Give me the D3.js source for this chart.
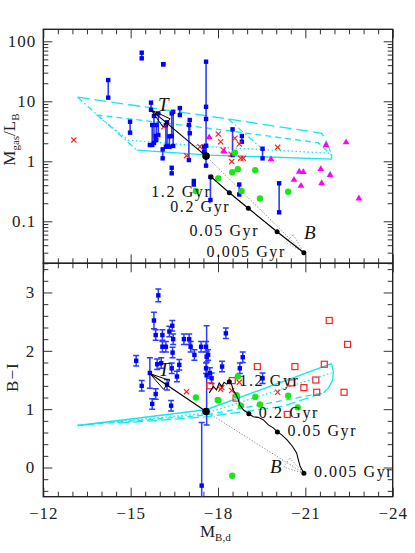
<!DOCTYPE html>
<html>
<head>
<meta charset="utf-8">
<script src="https://cdn.jsdelivr.net/npm/d3@7"></script>
<style>
  body { margin: 0; background: #fff; }
  text { font-family: "Liberation Serif", "DejaVu Serif", serif; }
</style>
</head>
<body>
<div id="chart"></div>
<script>
const width = 415, height = 553;
const frameL = 43.3, frameR = 392.7, frameT = 29.3, frameM = 263.3, frameB = 496.7;
const fontFam = "Liberation Serif, DejaVu Serif, serif";

// ---- data ----
const xMajor = [-12, -15, -18, -21, -24];
const topMajor = [0.1, 1, 10, 100];
const topMajorLabels = ["0.1", "1", "10", "100"];
const botMajor = [0, 1, 2, 3];

// top panel: blue ranges [M_B, low, high] of M_gas/L_B
const topBlueBars = [
  [-14.23, 11.5, 22.6], [-14.98, 3.0, 4.57], [-15.38, 52, 64.6], [-16.12, 41.4, 41.4],
  [-15.70, 7.2, 9.5], [-15.74, 1.87, 4.03], [-15.80, 2.02, 5.7], [-15.88, 2.26, 4.03],
  [-15.95, 2.74, 6.3], [-16.10, 1.12, 1.58], [-16.21, 1.75, 4.0], [-16.25, 1.8, 4.47],
  [-16.33, 1.75, 2.6], [-16.41, 2.64, 6.3], [-16.46, 1.8, 6.7], [-16.41, 0.63, 0.78],
  [-16.69, 5.9, 7.7], [-17.00, 1.05, 4.03], [-17.03, 2.93, 4.88], [-17.17, 0.41, 0.47],
  [-17.52, 1.45, 1.75], [-17.59, 0.845, 45.7], [-17.74, 0.226, 0.55], [-18.50, 1.27, 3.41],
  [-18.82, 2.12, 2.64], [-18.73, 0.28, 0.41], [-19.53, 1.12, 1.62], [-20.10, 0.141, 0.43]
];
const topBlueExtra = [[-17.59, 8.1], [-17.59, 5.07], [-17.59, 1.82], [-15.66, 1.87], [-15.86, 2.64]];
const topRedX = [
  [-13.05, 2.26], [-16.14, 3.77], [-16.92, 1.24], [-17.38, 1.75], [-18.01, 2.85], [-18.09, 2.12],
  [-18.18, 1.54], [-18.47, 0.99], [-18.45, 1.31], [-18.58, 2.42], [-18.73, 1.94], [-18.78, 1.12],
  [-18.87, 1.12], [-20.05, 1.71]
];
const topMagenta = [
  [-17.70, 2.51], [-18.21, 1.45], [-19.82, 1.08], [-20.79, 0.67], [-20.93, 0.66], [-21.53, 0.74],
  [-21.71, 1.87], [-22.40, 2.07], [-21.85, 0.59], [-20.61, 0.49], [-20.85, 0.39], [-21.56, 0.43],
  [-22.84, 0.24]
];
const topGreen = [
  [-18.58, 1.39], [-18.49, 0.66], [-18.68, 0.74], [-19.28, 0.71], [-18.01, 0.52],
  [-18.81, 0.32], [-19.44, 0.24], [-20.41, 0.31], [-17.24, 0.32]
];

// top panel model grid (cyan)
const modelTopLong = [[-13.18, 11.7], [-18.35, 5.07], [-21.56, 2.93], [-21.73, 2.12], [-21.9, 1.27]];
const modelTopDash = [[-13.83, 5.9], [-17.72, 3.55], [-21.44, 2.04], [-21.9, 1.27]];
const modelTopDot = [[-13.83, 5.9], [-14.92, 2.26], [-17.72, 1.75], [-21.9, 1.36]];
const modelTopSolid = [[-15.21, 1.54], [-17.72, 1.27], [-21.9, 1.09], [-21.9, 1.27]];
const modelTopDashDot = [[-13.18, 11.7], [-15.21, 1.54]];
const modelTopLink = [[-18.35, 5.07], [-19.50, 1.65]];

// top panel track (black)
const presentTop = [-17.59, 1.22];
const tipTop = [-15.70, 7.2];
const trackTop = [[-17.76, 0.55], [-18.39, 0.30], [-19.04, 0.165], [-20.03, 0.067], [-20.95, 0.030]];
const ageLabels = ["", "1.2 Gyr", "0.2 Gyr", "0.05 Gyr", "0.005 Gyr"];

// bottom panel: blue [M_B, B-I, error]
const botBlue = [
  [-15.95, 2.95, 0.11], [-15.80, 2.52, 0.14], [-15.86, 2.27, 0.09], [-15.19, 1.83, 0.09],
  [-15.38, 1.40, 0.09], [-15.66, 1.62, 0.26], [-15.74, 1.09, 0.09], [-15.86, 1.26, 0.09],
  [-15.91, 1.77, 0.09], [-16.09, 2.27, 0.09], [-16.09, 2.07, 0.09], [-16.05, 1.79, 0.09],
  [-16.21, 2.07, 0.09], [-16.33, 2.33, 0.09], [-16.43, 2.43, 0.09], [-16.46, 2.20, 0.09],
  [-16.44, 1.97, 0.09], [-16.41, 1.70, 0.09], [-16.25, 1.42, 0.09], [-16.39, 1.06, 0.09],
  [-16.59, 1.56, 0.09], [-16.67, 1.76, 0.09], [-16.83, 2.20, 0.09], [-17.01, 2.20, 0.09],
  [-17.06, 2.07, 0.09], [-17.19, 1.93, 0.09], [-17.42, 2.07, 0.09], [-17.61, 1.58, 0.85],
  [-17.44, -0.31, 1.08], [-17.59, 2.07, 0.09], [-17.61, 1.90, 0.09], [-17.66, 1.93, 0.09],
  [-17.72, 1.62, 0.09], [-17.78, 1.53, 0.09], [-17.59, 1.70, 0.09], [-18.14, 1.73, 0.09],
  [-18.27, 2.30, 0.09], [-18.85, 1.89, 0.09], [-18.75, 1.70, 0.09], [-19.53, 1.53, 0.09]
];
const botRedX = [[-16.92, 1.30], [-18.09, 1.34], [-18.47, 1.32], [-18.73, 1.46], [-20.05, 1.29], [-18.13, 1.37]];
const botRedSq = [
  [-17.72, 1.40], [-18.49, 1.49], [-18.62, 1.19], [-19.35, 1.73], [-20.64, 1.73], [-20.53, 1.45],
  [-20.95, 1.37], [-21.36, 1.50], [-21.39, 1.29], [-21.65, 1.77], [-21.82, 2.52], [-22.45, 2.11],
  [-22.33, 1.29], [-20.38, 0.91]
];
const botGreen = [
  [-18.01, 1.15], [-18.68, 1.56], [-18.64, 1.24], [-18.79, 1.06], [-19.28, 1.21], [-19.44, 1.08],
  [-20.41, 1.23], [-20.74, 1.03], [-18.49, -0.14], [-17.24, 1.20], [-17.99, 1.16]
];

// bottom panel model grid (cyan)
const modelBotSolid = [[-13.18, 0.72], [-17.59, 0.99], [-21.90, 1.78]];
const modelBotDot = [[-13.18, 0.72], [-17.59, 0.93], [-21.90, 1.62]];
const modelBotDash = [[-13.18, 0.72], [-17.59, 0.90], [-21.62, 1.28]];
const modelBotLong = [[-14.6, 0.76], [-17.59, 0.87], [-20.24, 1.05], [-21.62, 1.28]];
const modelBotEdge = [[-21.90, 1.78], [-21.96, 1.65], [-21.94, 1.50], [-21.79, 1.36], [-21.62, 1.28]];

// bottom panel track (black)
const presentBot = [-17.59, 0.96];
const tipBot = [-15.66, 1.61];
const trackBot = [
  [-17.70, 1.28], [-17.84, 1.39], [-17.95, 1.33], [-18.04, 1.45], [-18.13, 1.39], [-18.21, 1.46],
  [-18.30, 1.43], [-18.39, 1.47], [-18.47, 1.42], [-18.52, 1.33], [-18.62, 1.25], [-18.70, 1.16],
  [-18.75, 1.07], [-18.87, 0.99], [-19.06, 0.92], [-19.21, 0.87], [-19.38, 0.86], [-19.55, 0.82],
  [-19.73, 0.73], [-19.90, 0.68], [-20.04, 0.61], [-20.19, 0.56], [-20.38, 0.47], [-20.56, 0.36],
  [-20.70, 0.25], [-20.76, 0.13], [-20.82, 0.02], [-20.95, -0.10]
];
const trackBotAges = [[-18.39, 1.47], [-19.06, 0.92], [-20.04, 0.61], [-20.95, -0.10]];

// ---- scales ----
const x = d3.scaleLinear().domain([-12, -24]).range([frameL, frameR]);
const yTop = d3.scaleLog().domain([Math.pow(10, -1.7), Math.pow(10, 2.2)]).range([frameM, frameT]);
const yBot = d3.scaleLinear().domain([-0.5, 3.5]).range([frameB, frameM]);

const svg = d3.select("#chart").append("svg")
  .attr("width", width)
  .attr("height", height);

const defs = svg.append("defs");
defs.append("clipPath").attr("id", "clipTop").append("rect")
  .attr("x", frameL).attr("y", frameT).attr("width", frameR - frameL).attr("height", frameM - frameT);
defs.append("clipPath").attr("id", "clipBot").append("rect")
  .attr("x", frameL).attr("y", frameM).attr("width", frameR - frameL).attr("height", frameB - frameM);

const xMinor = d3.range(-12, -24.01, -0.5).filter(v => !xMajor.includes(v));
const topMinor = [];
[0.01, 0.1, 1, 10].forEach(p => d3.range(2, 10).forEach(k => {
  const v = +(k * p).toPrecision(3);
  if (v > yTop.domain()[0] && v < yTop.domain()[1]) topMinor.push(v);
}));
const botMinor = d3.range(-0.4, 3.5, 0.2).map(v => +v.toFixed(1)).filter(v => !botMajor.includes(v));

function drawAxis(axis, tx, ty) {
  const g = svg.append("g").attr("transform", "translate(" + tx + "," + ty + ")").call(axis);
  g.select(".domain").remove();
  g.selectAll("line").attr("stroke", "#333").attr("stroke-width", 1);
  g.selectAll("text").attr("font-family", fontFam).attr("font-size", 17)
    .attr("letter-spacing", 1).attr("fill", "#222");
  g.attr("font-family", null).attr("font-size", null);
  return g;
}

function ticks(axisFn, scale, values, size, fmt, pad) {
  return axisFn(scale).tickValues(values).tickSizeInner(-size).tickSizeOuter(0)
    .tickPadding(pad || 3).tickFormat(fmt || "");
}

// x ticks on all horizontal frame edges
drawAxis(ticks(d3.axisTop, x, xMajor, 9), 0, frameT);
drawAxis(ticks(d3.axisTop, x, xMinor, 5), 0, frameT);
drawAxis(ticks(d3.axisBottom, x, xMajor, 9), 0, frameM);
drawAxis(ticks(d3.axisBottom, x, xMinor, 5), 0, frameM);
drawAxis(ticks(d3.axisTop, x, xMajor, 9), 0, frameM);
drawAxis(ticks(d3.axisTop, x, xMinor, 5), 0, frameM);
drawAxis(ticks(d3.axisBottom, x, xMajor, 9, d3.format("d"), 10), 0, frameB);
drawAxis(ticks(d3.axisBottom, x, xMinor, 5), 0, frameB);

// y ticks
drawAxis(ticks(d3.axisLeft, yTop, topMajor, 9, (d, i) => topMajorLabels[i], 7), frameL, 0);
drawAxis(ticks(d3.axisLeft, yTop, topMinor, 5), frameL, 0);
drawAxis(ticks(d3.axisRight, yTop, topMajor, 9), frameR, 0);
drawAxis(ticks(d3.axisRight, yTop, topMinor, 5), frameR, 0);
drawAxis(ticks(d3.axisLeft, yBot, botMajor, 9, d3.format("d"), 8), frameL, 0);
drawAxis(ticks(d3.axisLeft, yBot, botMinor, 5), frameL, 0);
drawAxis(ticks(d3.axisRight, yBot, botMajor, 9), frameR, 0);
drawAxis(ticks(d3.axisRight, yBot, botMinor, 5), frameR, 0);

// frames
svg.append("rect").attr("x", frameL).attr("y", frameT).attr("width", frameR - frameL).attr("height", frameM - frameT)
  .attr("fill", "none").attr("stroke", "#222").attr("stroke-width", 1.4);
svg.append("rect").attr("x", frameL).attr("y", frameM).attr("width", frameR - frameL).attr("height", frameB - frameM)
  .attr("fill", "none").attr("stroke", "#222").attr("stroke-width", 1.4);

// axis titles
const xt = svg.append("text").attr("x", x(-17.38)).attr("y", frameB + 40).attr("font-size", 17).attr("fill", "#222");
xt.append("tspan").text("M");
xt.append("tspan").attr("font-size", 11).attr("dy", 4).text("B,d");

const yt1 = svg.append("text")
  .attr("transform", "translate(15," + yTop(2.3) + ") rotate(-90)")
  .attr("text-anchor", "middle").attr("font-size", 17).attr("fill", "#222");
yt1.append("tspan").text("M");
yt1.append("tspan").attr("font-size", 11).attr("dy", 4).text("gas");
yt1.append("tspan").attr("dy", -4).text("/L");
yt1.append("tspan").attr("font-size", 11).attr("dy", 4).text("B");

svg.append("text")
  .attr("transform", "translate(18," + yBot(1.55) + ") rotate(-90)")
  .attr("text-anchor", "middle").attr("font-size", 17).attr("letter-spacing", 1).attr("fill", "#222")
  .text("B\u2212I");

// ---- helpers ----
const cyan = "#10e8ee";
function poly(g, pts, sx, sy, color, w, dash) {
  g.append("path")
    .attr("d", d3.line().x(d => sx(d[0])).y(d => sy(d[1]))(pts))
    .attr("fill", "none").attr("stroke", color).attr("stroke-width", w)
    .attr("stroke-dasharray", dash || null);
}
function arrowHead(g, from, to, sx, sy, color, w, dash) {
  const x0 = sx(from[0]), y0 = sy(from[1]), x1 = sx(to[0]), y1 = sy(to[1]);
  const a = Math.atan2(y0 - y1, x0 - x1), L = 21, s = 0.26;
  const p1 = [x1 + L * Math.cos(a + s), y1 + L * Math.sin(a + s)];
  const p2 = [x1 + L * Math.cos(a - s), y1 + L * Math.sin(a - s)];
  g.append("path").attr("d", "M" + p1 + "L" + [x1, y1] + "L" + p2 + "Z")
    .attr("fill", "none").attr("stroke", color).attr("stroke-width", w)
    .attr("stroke-dasharray", dash || null);
}
const crossPath = "M-2.6,-2.6L2.6,2.6M-2.6,2.6L2.6,-2.6";
const tri = d3.symbol(d3.symbolTriangle).size(20);

// ---- top panel ----
const gt = svg.append("g").attr("clip-path", "url(#clipTop)");
poly(gt, modelTopLong, x, yTop, cyan, 1.3, "12,5");
poly(gt, modelTopDash, x, yTop, cyan, 1.3, "6,4");
poly(gt, modelTopDot, x, yTop, cyan, 1.3, "1.5,2.5");
poly(gt, modelTopSolid, x, yTop, cyan, 1.3);
poly(gt, modelTopDashDot, x, yTop, cyan, 1.2, "6,3,1.5,3");
poly(gt, modelTopLink, x, yTop, cyan, 1.2, "6,3,1.5,3");

gt.selectAll(".bar").data(topBlueBars).enter().append("line")
  .attr("x1", d => x(d[0])).attr("x2", d => x(d[0]))
  .attr("y1", d => yTop(d[1])).attr("y2", d => yTop(d[2]))
  .attr("stroke", "#2a3cff").attr("stroke-width", 1.6);
const topSquares = topBlueBars.flatMap(d => [[d[0], d[1]], [d[0], d[2]]]).concat(topBlueExtra);
gt.selectAll(".sq").data(topSquares).enter().append("rect")
  .attr("x", d => x(d[0]) - 2.2).attr("y", d => yTop(d[1]) - 2.2)
  .attr("width", 4.4).attr("height", 4.4).attr("fill", "#0000ff");

gt.selectAll(".rx").data(topRedX).enter().append("path")
  .attr("transform", d => "translate(" + x(d[0]) + "," + yTop(d[1]) + ")")
  .attr("d", crossPath).attr("stroke", "#ff2020").attr("stroke-width", 1.2).attr("fill", "none");
gt.selectAll(".mt").data(topMagenta).enter().append("path")
  .attr("transform", d => "translate(" + x(d[0]) + "," + yTop(d[1]) + ")")
  .attr("d", tri).attr("fill", "#ff00ff");
gt.selectAll(".gc").data(topGreen).enter().append("circle")
  .attr("cx", d => x(d[0])).attr("cy", d => yTop(d[1])).attr("r", 3.2).attr("fill", "#18e818");

// track, arrows
poly(gt, [presentTop, trackTop[4]], x, yTop, "#777", 0.9, "1.2,1.8");
arrowHead(gt, presentTop, trackTop[4], x, yTop, "#777", 0.8, "1.2,1.8");
poly(gt, trackTop, x, yTop, "#000", 1.2);
gt.selectAll(".td").data(trackTop).enter().append("circle")
  .attr("cx", d => x(d[0])).attr("cy", d => yTop(d[1])).attr("r", 2.5).attr("fill", "#000");
poly(gt, [presentTop, tipTop], x, yTop, "#000", 1.2);
arrowHead(gt, presentTop, tipTop, x, yTop, "#000", 1);
gt.append("circle").attr("cx", x(presentTop[0])).attr("cy", yTop(presentTop[1])).attr("r", 3.8).attr("fill", "#000");

svg.selectAll(".al").data(trackTop.slice(1)).enter().append("text")
  .attr("x", d => x(d[0]) - 18).attr("y", d => yTop(d[1]) + 4)
  .attr("text-anchor", "end").attr("font-size", 16).attr("letter-spacing", 1.6).attr("fill", "#111")
  .text((d, i) => ageLabels[i + 1]);
svg.append("text").attr("x", x(tipTop[0]) + 7).attr("y", yTop(tipTop[1]) + 1)
  .attr("font-size", 19).attr("font-style", "italic").attr("fill", "#111").text("T");
svg.append("text").attr("x", x(trackTop[4][0])).attr("y", yTop(trackTop[4][1]) - 14)
  .attr("font-size", 19).attr("font-style", "italic").attr("fill", "#111").text("B");

// ---- bottom panel ----
const gb = svg.append("g").attr("clip-path", "url(#clipBot)");
poly(gb, modelBotLong, x, yBot, cyan, 1.2, "10,4");
poly(gb, modelBotDash, x, yBot, cyan, 1.3, "6,4");
poly(gb, modelBotDot, x, yBot, cyan, 1.3, "1.5,2.5");
poly(gb, modelBotSolid, x, yBot, cyan, 1.4);
poly(gb, modelBotEdge, x, yBot, cyan, 1.3);

const eb = gb.selectAll(".eb").data(botBlue).enter().append("g").attr("stroke", "#2a3cff").attr("stroke-width", 1.5);
eb.append("line").attr("x1", d => x(d[0])).attr("x2", d => x(d[0]))
  .attr("y1", d => yBot(d[1] - d[2])).attr("y2", d => yBot(d[1] + d[2]));
eb.append("line").attr("x1", d => x(d[0]) - 3).attr("x2", d => x(d[0]) + 3)
  .attr("y1", d => yBot(d[1] - d[2])).attr("y2", d => yBot(d[1] - d[2]));
eb.append("line").attr("x1", d => x(d[0]) - 3).attr("x2", d => x(d[0]) + 3)
  .attr("y1", d => yBot(d[1] + d[2])).attr("y2", d => yBot(d[1] + d[2]));
gb.selectAll(".bsq").data(botBlue).enter().append("rect")
  .attr("x", d => x(d[0]) - 2.2).attr("y", d => yBot(d[1]) - 2.2)
  .attr("width", 4.4).attr("height", 4.4).attr("fill", "#0000ff");

gb.selectAll(".rs").data(botRedSq).enter().append("rect")
  .attr("x", d => x(d[0]) - 3).attr("y", d => yBot(d[1]) - 3)
  .attr("width", 6).attr("height", 6).attr("fill", "none")
  .attr("stroke", "#ff2020").attr("stroke-width", 1.2);
gb.selectAll(".brx").data(botRedX).enter().append("path")
  .attr("transform", d => "translate(" + x(d[0]) + "," + yBot(d[1]) + ")")
  .attr("d", crossPath).attr("stroke", "#ff2020").attr("stroke-width", 1.2).attr("fill", "none");
gb.selectAll(".bg").data(botGreen).enter().append("circle")
  .attr("cx", d => x(d[0])).attr("cy", d => yBot(d[1])).attr("r", 3.2).attr("fill", "#18e818");

poly(gb, [presentBot, trackBot[trackBot.length - 1]], x, yBot, "#777", 0.9, "1.2,1.8");
arrowHead(gb, presentBot, trackBot[trackBot.length - 1], x, yBot, "#777", 0.8, "1.2,1.8");
poly(gb, trackBot, x, yBot, "#000", 1.1);
gb.selectAll(".bd").data(trackBotAges).enter().append("circle")
  .attr("cx", d => x(d[0])).attr("cy", d => yBot(d[1])).attr("r", 2.5).attr("fill", "#000");
poly(gb, [presentBot, tipBot], x, yBot, "#000", 1.2);
arrowHead(gb, presentBot, tipBot, x, yBot, "#000", 1);
gb.append("circle").attr("cx", x(presentBot[0])).attr("cy", yBot(presentBot[1])).attr("r", 3.8).attr("fill", "#000");

svg.selectAll(".bl").data(trackBotAges).enter().append("text")
  .attr("x", d => x(d[0]) + 10).attr("y", d => yBot(d[1]) + 4)
  .attr("font-size", 16).attr("letter-spacing", 1.6).attr("fill", "#111")
  .text((d, i) => ageLabels[i + 1]);
svg.append("text").attr("x", x(tipBot[0]) + 9).attr("y", yBot(tipBot[1]) + 2)
  .attr("font-size", 19).attr("font-style", "italic").attr("fill", "#111").text("T");
svg.append("text").attr("x", x(trackBot[trackBot.length - 1][0]) - 34).attr("y", yBot(trackBot[trackBot.length - 1][1]))
  .attr("font-size", 19).attr("font-style", "italic").attr("fill", "#111").text("B");
</script>
</body>
</html>
